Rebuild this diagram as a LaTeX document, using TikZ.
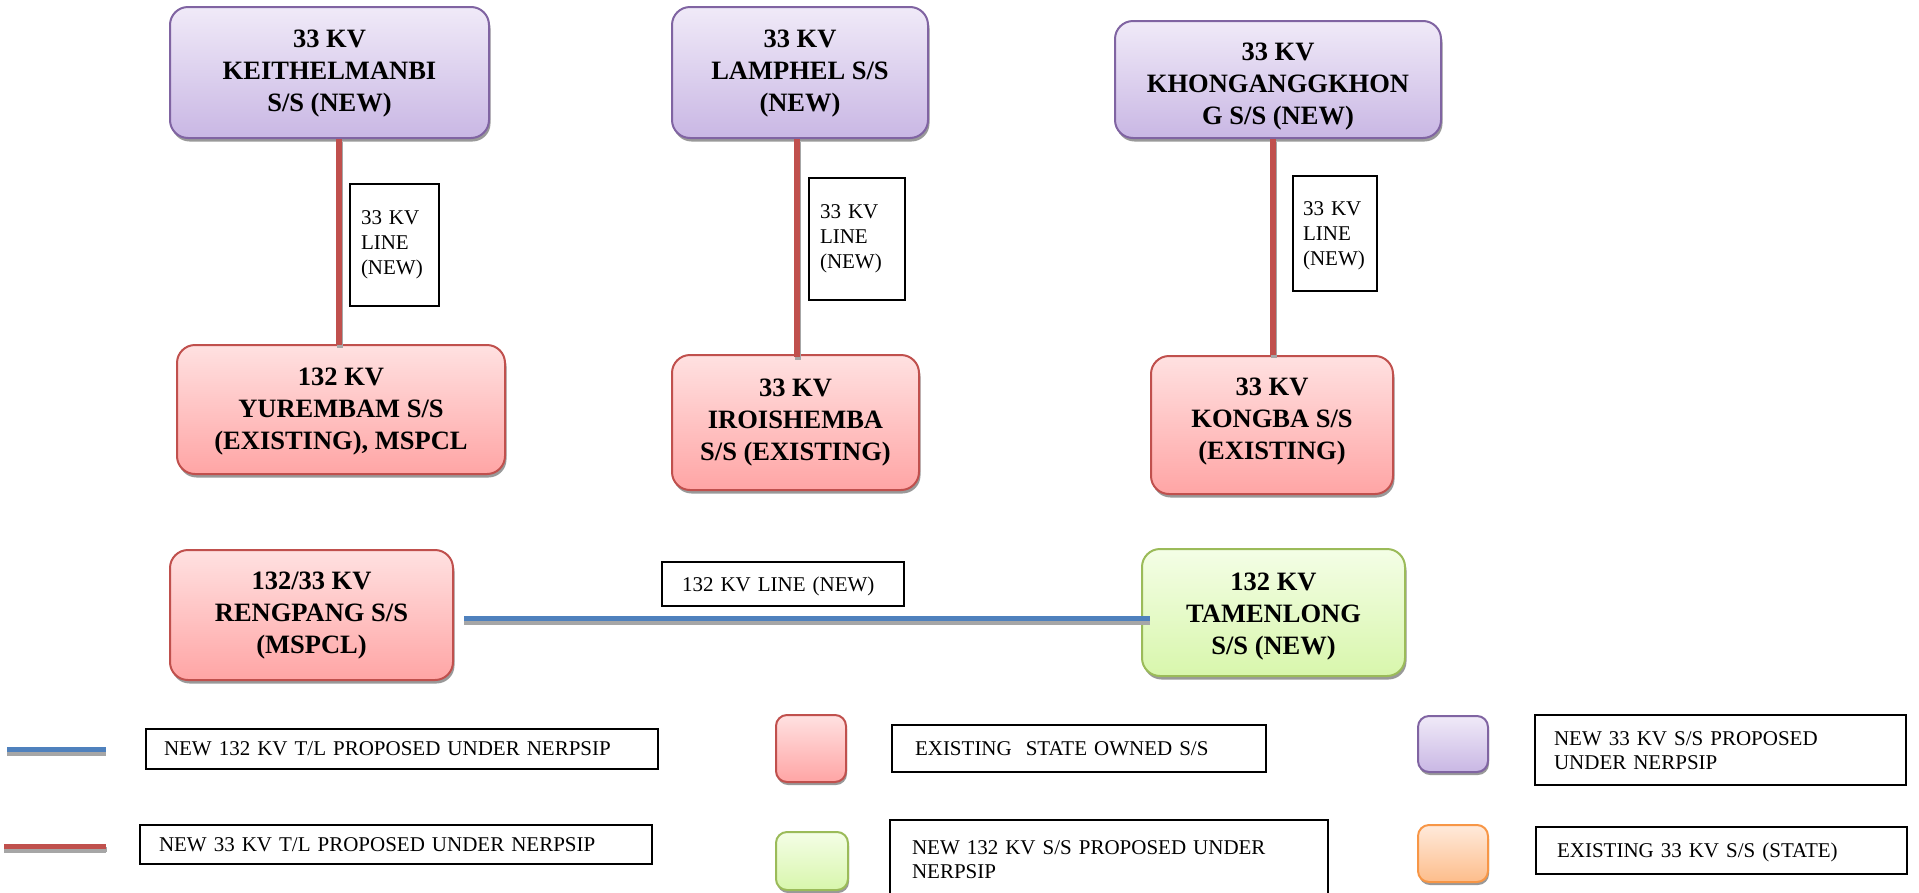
\documentclass[tikz,border=0pt]{standalone}
\usepackage{fontspec}
\setmainfont{Liberation Serif}
\usetikzlibrary{shadows}
\definecolor{purTop}{HTML}{F0EAF8}
\definecolor{purBot}{HTML}{C9B7E4}
\definecolor{purLn}{HTML}{8064A2}
\definecolor{redTop}{HTML}{FFE1E1}
\definecolor{redBot}{HTML}{FFA5A5}
\definecolor{redLn}{HTML}{C0504D}
\definecolor{grnTop}{HTML}{F4FEE6}
\definecolor{grnBot}{HTML}{D8F6AC}
\definecolor{grnLn}{HTML}{9BBB59}
\definecolor{orgTop}{HTML}{FFEADB}
\definecolor{orgBot}{HTML}{FDBD8B}
\definecolor{orgLn}{HTML}{F79646}
\definecolor{blueLn}{HTML}{4F81BD}
\begin{document}
\begin{tikzpicture}[x=1pt,y=-1pt,
  ssbase/.style={rounded corners=18pt, line width=2pt, inner sep=0pt,
    drop shadow={shadow xshift=1.5pt, shadow yshift=-3.5pt, fill=black!40, opacity=1}},
  sstext/.style={align=center, inner sep=0pt,
    font=\fontsize{26.5}{32}\selectfont\bfseries},
  sqbase/.style={rounded corners=11pt, line width=2pt, inner sep=0pt,
    drop shadow={shadow xshift=1pt, shadow yshift=-3pt, fill=black!40, opacity=1}},
  purfill/.style={draw=purLn, top color=purTop, bottom color=purBot},
  redfill/.style={draw=redLn, top color=redTop, bottom color=redBot},
  grnfill/.style={draw=grnLn, top color=grnTop, bottom color=grnBot},
  orgfill/.style={draw=orgLn, top color=orgTop, bottom color=orgBot},
  pur/.style={ssbase, purfill},
  redb/.style={ssbase, redfill},
  grnb/.style={ssbase, grnfill},
  lbl/.style={draw, line width=1.2pt, align=left, inner ysep=0pt, fill=white,
    font=\fontsize{21}{25}\selectfont},
  lgb/.style={draw, line width=1.6pt, align=left, inner ysep=0pt,
    font=\fontsize{21}{24}\selectfont},
  redline/.style={line width=5.5pt, draw=redLn,
    preaction={draw=black!35, line width=5.5pt, transform canvas={xshift=1pt,yshift=-3pt}}},
  blueline/.style={line width=5.5pt, draw=blueLn,
    preaction={draw=black!35, line width=5.5pt, transform canvas={yshift=-4pt}}}
]
\useasboundingbox (0,0) rectangle (1919,892);

% substations (boxes)
\node[pur, minimum width=319pt, minimum height=131pt] (kei) at (329.5,72.5) {};
\node[pur, minimum width=256pt, minimum height=131pt] (lam) at (800,72.5) {};
\node[pur, minimum width=326pt, minimum height=117pt] (kho) at (1278,79.5) {};
\node[redb, minimum width=328pt, minimum height=129pt] (yur) at (341,409.5) {};
\node[redb, minimum width=247pt, minimum height=135pt] (iro) at (795.5,422.5) {};
\node[redb, minimum width=242pt, minimum height=138pt] (kon) at (1272,425) {};
\node[redb, minimum width=283pt, minimum height=130pt] (ren) at (311.5,615) {};
\node[grnb, minimum width=263pt, minimum height=127pt] (tam) at (1273.5,612.5) {};

% substations (texts)
\node[sstext] (keit) at (329.5,73.5) {33 KV\\KEITHELMANBI\\S/S (NEW)};
\node[sstext] (lamt) at (800,73.5) {33 KV\\LAMPHEL S/S\\(NEW)};
\node[sstext] (khot) at (1278,86.5) {33 KV\\KHONGANGGKHON\\G S/S (NEW)};
\node[sstext] (yurt) at (341,411.5) {132 KV\\YUREMBAM S/S\\(EXISTING), MSPCL};
\node[sstext] (irot) at (795.5,422.5) {33 KV\\IROISHEMBA\\S/S (EXISTING)};
\node[sstext] (kont) at (1272,422) {33 KV\\KONGBA S/S\\(EXISTING)};
\node[sstext] (rent) at (311.5,616) {132/33 KV\\RENGPANG S/S\\(MSPCL)};
\node[sstext] (tamt) at (1273.5,617) {132 KV\\TAMENLONG\\S/S (NEW)};

% line labels
\node[lbl, text width=67pt, inner xsep=11pt, minimum height=122pt] (l1) at (394.5,245) {33 KV\\LINE\\(NEW)};
\node[lbl, text width=74pt, inner xsep=11pt, minimum height=122pt] (l2) at (857,239) {33 KV\\LINE\\(NEW)};
\node[lbl, text width=64pt, inner xsep=10pt, minimum height=115pt] (l3) at (1335,233.5) {33 KV\\LINE\\(NEW)\vspace*{-5pt}};
\node[lbl, text width=202pt, inner xsep=20pt, minimum height=44pt] (l4) at (783,584) {132 KV LINE (NEW)\vspace*{-5pt}};

% connectors
\coordinate (c1) at (339,0);
\coordinate (c2) at (797,0);
\coordinate (c3) at (1273,0);
\coordinate (cb) at (0,618.5);
\draw[redline] (c1 |- kei.south) -- ([yshift=-1pt]c1 |- yur.north);
\draw[redline] (c2 |- lam.south) -- ([yshift=-3pt]c2 |- iro.north);
\draw[redline] (c3 |- kho.south) -- (c3 |- kon.north);
\draw[blueline] ([xshift=10pt]ren.east |- cb) -- ([xshift=9pt]tam.west |- cb);

% legend
\coordinate (lb1) at (7,749.5);
\coordinate (lb2) at (106,749.5);
\coordinate (lr1) at (4,846.5);
\coordinate (lr2) at (106,846.5);
\draw[blueline] (lb1) -- (lb2);
\draw[redline, preaction={draw=black!35, line width=5.5pt, transform canvas={yshift=-4pt}}] (lr1) -- (lr2);

\node[lgb, text width=476pt, inner xsep=18pt, minimum height=40pt] (g1) at (402,749) {NEW 132 KV T/L PROPOSED UNDER NERPSIP\vspace*{-5pt}};
\node[lgb, text width=474pt, inner xsep=19pt, minimum height=39pt] (g2) at (396,844.5) {NEW 33 KV T/L PROPOSED UNDER NERPSIP};

\node[sqbase, redfill, minimum width=70pt, minimum height=67pt] (s1) at (811,748.5) {};
\node[lgb, text width=328pt, inner xsep=23pt, minimum height=47pt] (g3) at (1079,748.5) {EXISTING\ \ STATE OWNED S/S\vspace*{-2pt}};
\node[sqbase, grnfill, minimum width=72pt, minimum height=58pt] (s2) at (812,861) {};
\node[lgb, text width=394pt, inner xsep=22pt, minimum height=80pt] (g4) at (1109,860) {NEW 132 KV S/S PROPOSED UNDER\\NERPSIP};

\node[sqbase, purfill, minimum width=70pt, minimum height=56pt] (s3) at (1453,744) {};
\node[lgb, text width=333pt, inner xsep=19pt, minimum height=70pt] (g5) at (1720.5,750) {NEW 33 KV S/S PROPOSED\\UNDER NERPSIP\vspace*{-2pt}};
\node[sqbase, orgfill, minimum width=70pt, minimum height=57pt] (s4) at (1453,853.5) {};
\node[lgb, text width=329pt, inner xsep=21pt, minimum height=47pt] (g6) at (1721.5,850.5) {EXISTING 33 KV S/S (STATE)\vspace*{-7pt}};
\end{tikzpicture}
\end{document}
